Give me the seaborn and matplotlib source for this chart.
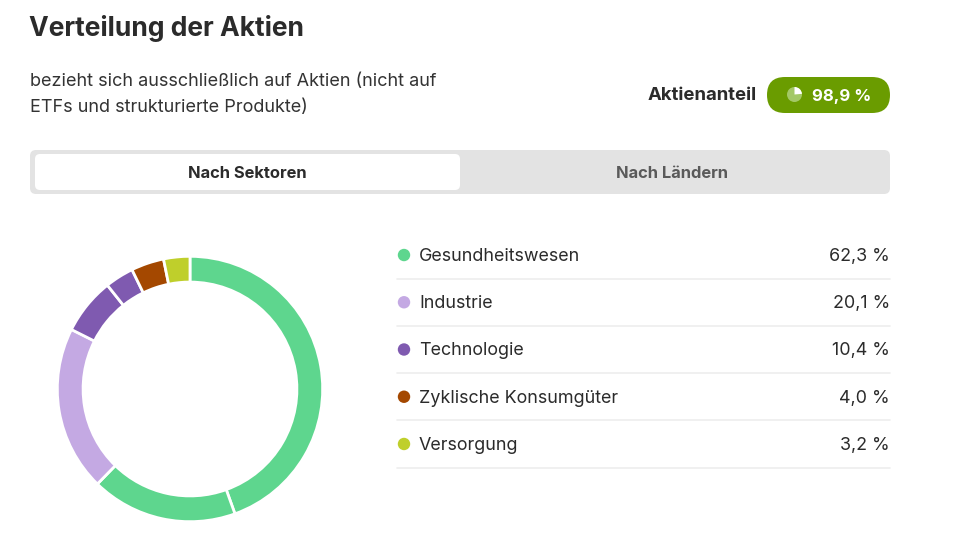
import matplotlib
matplotlib.use("Agg")
import matplotlib.pyplot as plt
from matplotlib.patches import FancyBboxPatch, Wedge, Circle
import pandas as pd
import seaborn as sns

# sector totals shown in the legend
sectors = ["Gesundheitswesen", "Industrie", "Technologie", "Zyklische Konsumgüter", "Versorgung"]
sector_share = [62.3, 20.1, 10.4, 4.0, 3.2]
sector_colors = ["#5ED68E", "#C4A9E3", "#7F5AB0", "#A44800", "#BFCF2B"]

# donut ring is split per holding, each belongs to one sector
segment_sector = [0, 0, 1, 2, 2, 3, 4]
segment_share = [44.5, 17.8, 20.1, 6.9, 3.5, 4.0, 3.2]

stock_ratio = 98.9

title = "Verteilung der Aktien"
subtitle = ["bezieht sich ausschließlich auf Aktien (nicht auf", "ETFs und strukturierte Produkte)"]
tabs = ["Nach Sektoren", "Nach Ländern"]


def fmt(v):
    return f"{v:.1f}".replace(".", ",") + " %"


sns.set_theme(style="white")
plt.rcParams["font.family"] = ["Inter", "DejaVu Sans"]

W, H = 956, 553
fig = plt.figure(figsize=(W / 100, H / 100), dpi=100)
fig.patch.set_facecolor("white")

# background axes in pixel coordinates for the card layout
bg = fig.add_axes([0, 0, 1, 1])
bg.set_xlim(0, W)
bg.set_ylim(H, 0)
bg.axis("off")

bg.text(29, 29, title, fontsize=19, fontweight="bold", color="#2B2B2B", va="center")
bg.text(30, 81, subtitle[0], fontsize=13, color="#333333", va="center")
bg.text(30, 107, subtitle[1], fontsize=13, color="#333333", va="center")

bg.text(757, 96, "Aktienanteil", fontsize=13.4, fontweight="bold", color="#2B2B2B",
        va="center", ha="right")
bg.add_patch(FancyBboxPatch((767, 77), 123, 36,
                            boxstyle="round,pad=0,rounding_size=18",
                            fc="#6A9C00", ec="none"))
bg.add_patch(Circle((794.5, 94.5), 7.5, fc="#A3C866", ec="none"))
# pixel axes has inverted y, so wedge angles are mirrored
bg.add_patch(Wedge((794.5, 94.5), 7.5, -90, -5, fc="white", ec="none"))
bg.text(812, 96, fmt(stock_ratio), fontsize=12.1, fontweight="bold", color="white", va="center")

# tab switcher
bg.add_patch(FancyBboxPatch((30, 150), 860, 44, boxstyle="round,pad=0,rounding_size=6",
                            fc="#E3E3E3", ec="none"))
bg.add_patch(FancyBboxPatch((35, 154), 425, 36, boxstyle="round,pad=0,rounding_size=5",
                            fc="white", ec="none"))
bg.text(247, 174, tabs[0], fontsize=11.9, fontweight="bold", color="#2B2B2B", ha="center", va="center")
bg.text(672, 174, tabs[1], fontsize=11.9, fontweight="bold", color="#5A5A5A", ha="center", va="center")

# donut
cx, cy, r = 190, 389, 134
dax = fig.add_axes([(cx - r) / W, (H - cy - r) / H, 2 * r / W, 2 * r / H])
seg_colors = [sector_colors[i] for i in segment_sector]
dax.pie(segment_share, colors=seg_colors, startangle=90, counterclock=False, radius=1,
        wedgeprops=dict(width=26 / r, edgecolor="white", linewidth=2, joinstyle="round"))
dax.set_xlim(-1.01, 1.01)
dax.set_ylim(-1.01, 1.01)
dax.set_aspect("equal")
dax.axis("off")

# legend list
lx0, lx1 = 397, 890
ly0, ly1 = 231.4, 467.6
lax = fig.add_axes([lx0 / W, (H - ly1) / H, (lx1 - lx0) / W, (ly1 - ly0) / H])
lax.set_xlim(lx0, lx1)
lax.set_ylim(len(sectors) - 0.5, -0.5)
lax.axis("off")

leg = pd.DataFrame({"sector": sectors, "share": sector_share, "row": range(len(sectors))})
leg["x"] = 404
sns.scatterplot(data=leg, x="x", y="row", hue="sector", palette=sector_colors,
                s=80, linewidth=0, legend=False, ax=lax, clip_on=False)
for _, row in leg.iterrows():
    ty = row["row"] + 0.03
    lax.text(419, ty, row["sector"], fontsize=12.9, color="#2B2B2B", va="center")
    lax.text(890, ty, fmt(row["share"]), fontsize=12.9, color="#2B2B2B",
             va="center", ha="right")
    lax.axhline(row["row"] + 0.5, color="#EDEDED", linewidth=1.2, clip_on=False)

fig.savefig("out.png", dpi=100, facecolor="white")
